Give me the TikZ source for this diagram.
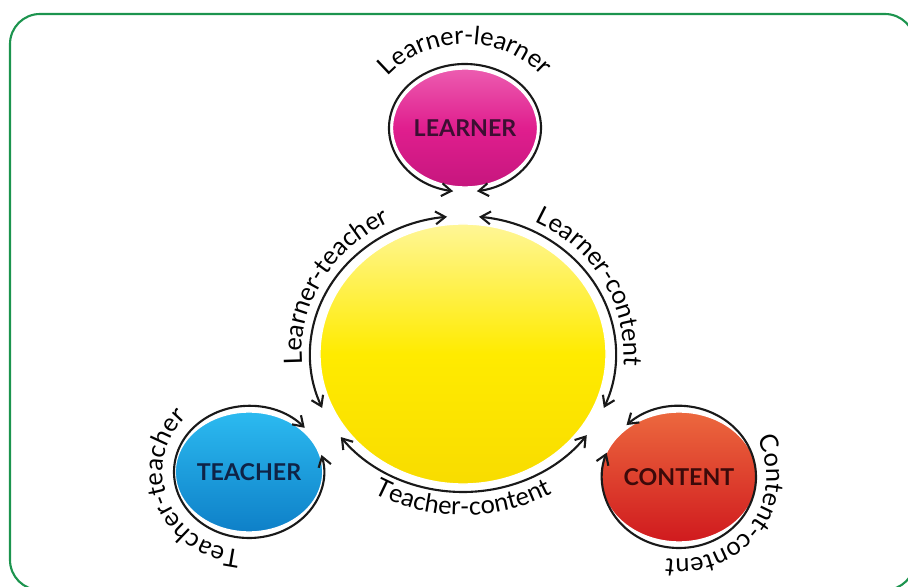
\documentclass[tikz,border=0pt]{standalone}
\usepackage{fontspec}
\usetikzlibrary{arrows.meta,shapes.geometric,decorations.text}
\newfontfamily\arcfont{Lato}
\newcommand{\arclbl}{\arcfont\fontsize{18}{20}\selectfont}
\newcommand{\ballfont}{\arcfont\bfseries\fontsize{16.5}{18}\selectfont}

\definecolor{framegreen}{RGB}{28,148,78}
\definecolor{pinktop}{RGB}{236,92,176}
\definecolor{pinkmid}{RGB}{224,30,142}
\definecolor{pinkbot}{RGB}{198,22,126}
\definecolor{suntop}{RGB}{255,246,150}
\definecolor{sunmid}{RGB}{255,235,0}
\definecolor{sunbot}{RGB}{248,220,0}
\definecolor{bluetop}{RGB}{44,186,240}
\definecolor{bluebot}{RGB}{14,128,200}
\definecolor{redtop}{RGB}{236,104,62}
\definecolor{redbot}{RGB}{208,26,30}

\begin{document}
\begin{tikzpicture}[x=0.025cm, y=0.025cm,
    ball/.style={ellipse, inner sep=0pt, draw=white, line width=1pt, font=\ballfont},
    tie/.style={line width=1.5pt, draw=black!90,
        {Straight Barb[length=2.4mm,width=3.2mm]}-{Straight Barb[length=2.4mm,width=3.2mm]}},
    arclabel/.style={decorate, decoration={text along path, text align=center, text={|\arclbl|#1}}}]
    \useasboundingbox (0,0) rectangle (908,586);
    \begin{scope}
        \clip (0,0) rectangle (908,586);
        \draw[framegreen, line width=1.5pt, rounded corners=0.75cm] (10,572) rectangle (915,-4);
    \end{scope}

    % the four circles
    \node[ball, minimum width=7.15cm, minimum height=6.5cm,
        top color=suntop, bottom color=sunbot, middle color=sunmid] (core) at (463,232) {};
    \node[ball, minimum width=3.55cm, minimum height=2.95cm, text={rgb,255:red,60;green,15;blue,50},
        top color=pinktop, bottom color=pinkbot, middle color=pinkmid] (learner) at (465,458) {LEARNER};
    \node[ball, minimum width=3.45cm, minimum height=3cm, text={rgb,255:red,15;green,35;blue,70},
        top color=bluetop, bottom color=bluebot] (teacher) at (249,114) {TEACHER};
    \node[ball, minimum width=3.45cm, minimum height=3.25cm, text={rgb,255:red,60;green,10;blue,10},
        top color=redtop, bottom color=redbot] (content) at (679,109) {CONTENT};

    % interactions
    \draw[tie] ([shift={(261:76 and 64)}]learner.center) arc[start angle=261, end angle=-81, x radius=76, y radius=64];
    \draw[tie] ([shift={(42:75 and 66)}]teacher.center) arc[start angle=42, end angle=375, x radius=75, y radius=66];
    \draw[tie] ([shift={(133:77 and 71)}]content.center) arc[start angle=133, end angle=-200, x radius=77, y radius=71];
    \draw[tie] ([shift={(96:153 and 138)}]core.center) arc[start angle=96, end angle=203, x radius=153, y radius=138];
    \draw[tie] ([shift={(84:153 and 138)}]core.center) arc[start angle=84, end angle=-23, x radius=153, y radius=138];
    \draw[tie] ([shift={(217:153 and 138)}]core.center) arc[start angle=217, end angle=324, x radius=153, y radius=138];

    % labels
    \path[arclabel=Learner-learner] ([shift={(178:98 and 84)}]learner.center) arc[start angle=178, end angle=2, x radius=98, y radius=84];
    \path[arclabel=Learner-teacher] ([shift={(198:161 and 148)}]core.center) arc[start angle=198, end angle=104, x radius=161, y radius=148];
    \path[arclabel=Learner-content] ([shift={(76:161 and 148)}]core.center) arc[start angle=76, end angle=-18, x radius=161, y radius=148];
    \path[arclabel=Teacher-content] ([shift={(212:177 and 161)}]core.center) arc[start angle=212, end angle=328, x radius=177, y radius=161];
    \path[arclabel=Teacher-teacher] ([shift={(280:86 and 79)}]teacher.center) arc[start angle=280, end angle=120, x radius=86, y radius=79];
    \path[arclabel=Content-content] ([shift={(40:88 and 82)}]content.center) arc[start angle=40, end angle=-110, x radius=88, y radius=82];
\end{tikzpicture}
\end{document}
